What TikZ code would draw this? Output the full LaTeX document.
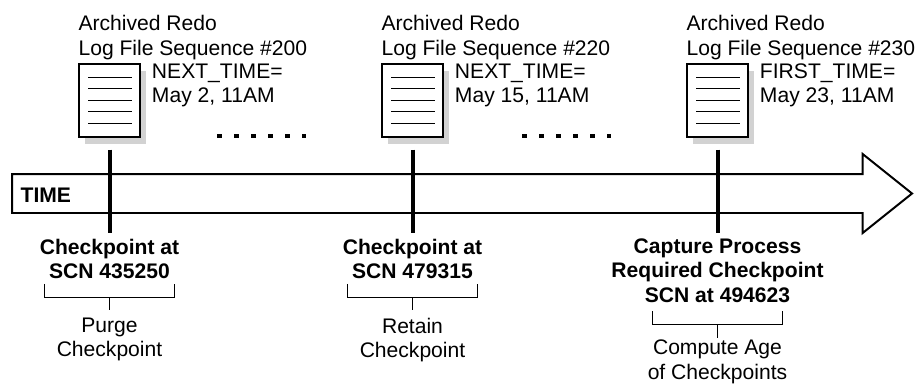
\documentclass[tikz,border=0pt]{standalone}
\usepackage{fontspec}
\setmainfont{Liberation Sans}
\usetikzlibrary{shapes.arrows, shadows, positioning}
\tikzstyle{logpage} = [rectangle, minimum width=1.525cm, minimum height=1.825cm, inner sep=0, draw=black, line width=1pt, fill=white, drop shadow={shadow xshift=0.14cm, shadow yshift=-0.18cm, fill=gray!35, opacity=1},
  path picture={
    \draw [line width=0.7pt] ([xshift=0.225cm, yshift=-0.325cm]path picture bounding box.north west) -- ++(1.1cm,0);
    \draw [line width=0.7pt] ([xshift=0.225cm, yshift=-0.6cm]path picture bounding box.north west) -- ++(1.1cm,0);
    \draw [line width=0.7pt] ([xshift=0.225cm, yshift=-0.9cm]path picture bounding box.north west) -- ++(1.1cm,0);
    \draw [line width=0.7pt] ([xshift=0.225cm, yshift=-1.175cm]path picture bounding box.north west) -- ++(1.1cm,0);
    \draw [line width=0.7pt] ([xshift=0.225cm, yshift=-1.475cm]path picture bounding box.north west) -- ++(1.1cm,0);
  }]
\tikzstyle{logtext} = [inner sep=0, align=left, font=\fontsize{15}{17.4}\selectfont]
\tikzstyle{scntext} = [inner sep=0, align=center, font=\fontsize{15}{17.4}\selectfont\bfseries]
\tikzstyle{roletext} = [inner sep=0, align=center, font=\fontsize{15}{17.4}\selectfont]
\tikzstyle{bracket} = [rectangle, minimum width=3.25cm, minimum height=0.325cm, inner sep=0]
\tikzstyle{tickline} = [line width=0.1cm, shorten <=0.3cm, shorten >=0.135cm]
\tikzstyle{thinline} = [line width=0.7pt]
\tikzstyle{dotline} = [line width=0.1cm, dash pattern=on 0.12cm off 0.305cm]

\begin{document}
\begin{tikzpicture}[node distance=2cm]
\useasboundingbox (0,0) rectangle (23,-9.575);
\node (timearrow) [single arrow, single arrow tip angle=77.3, single arrow head extend=0.5cm, shape border rotate=0, minimum height=22.5cm, text height=0.925cm, text width=0pt, inner sep=0, line width=1.4pt, draw=black, fill=white, anchor=west] at (0.275,-4.8375) {};
\node (timelabel) [scntext, anchor=west] at (0.51,-4.87) {TIME};
% log files
\node (doc1) [logpage] at (2.7375,-2.5125) {};
\node (doc2) [logpage, right of=doc1, xshift=5.575cm] {};
\node (doc3) [logpage, right of=doc2, xshift=5.625cm] {};
\node (arch1) [logtext, above=0.09cm of doc1.north west, anchor=south west] {Archived Redo\\Log File Sequence \#200};
\node (arch2) [logtext, above=0.09cm of doc2.north west, anchor=south west] {Archived Redo\\Log File Sequence \#220};
\node (arch3) [logtext, above=0.09cm of doc3.north west, anchor=south west] {Archived Redo\\Log File Sequence \#230};
\node (time1) [logtext, right=0.275cm of doc1.north east, anchor=north west] {NEXT\_TIME=\\May 2, 11AM};
\node (time2) [logtext, right=0.275cm of doc2.north east, anchor=north west] {NEXT\_TIME=\\May 15, 11AM};
\node (time3) [logtext, right=0.275cm of doc3.north east, anchor=north west] {FIRST\_TIME=\\May 23, 11AM};
% checkpoints
\node (check1) [scntext, below=3.45cm of doc1.center, anchor=north] {Checkpoint at\\SCN 435250};
\node (check2) [scntext, below=3.45cm of doc2.center, anchor=north] {Checkpoint at\\SCN 479315};
\node (check3) [scntext, below=3.45cm of doc3.center, anchor=north] {Capture Process\\Required Checkpoint\\SCN at 494623};
\node (brace1) [bracket, below=1.135cm of check1.north] {};
\node (brace2) [bracket, below=1.135cm of check2.north] {};
\node (brace3) [bracket, below=1.815cm of check3.north] {};
\node (purge) [roletext, below=0.5cm of brace1.south] {Purge\\Checkpoint};
\node (retain) [roletext, below=0.5cm of brace2.south] {Retain\\Checkpoint};
\node (age) [roletext, below=0.38cm of brace3.south] {Compute Age\\of Checkpoints};
\draw [tickline] (doc1) -- (check1);
\draw [tickline] (doc2) -- (check2);
\draw [tickline] (doc3) -- (check3);
\draw [thinline] (brace1.north west) |- (brace1.south east) -- (brace1.north east);
\draw [thinline] (brace2.north west) |- (brace2.south east) -- (brace2.north east);
\draw [thinline] (brace3.north west) |- (brace3.south east) -- (brace3.north east);
\draw [thinline, shorten >=0.175cm] (brace1.south) -- (purge);
\draw [thinline, shorten >=0.175cm] (brace2.south) -- (retain);
\draw [thinline, shorten >=0.05cm] (brace3.south) -- (age);
% dots
\coordinate (dots1a) at (5.425,-3.4);
\coordinate (dots1b) at (7.65,-3.4);
\coordinate (dots2a) at (13.05,-3.4);
\coordinate (dots2b) at (15.275,-3.4);
\draw [dotline] (dots1a) -- (dots1b);
\draw [dotline] (dots2a) -- (dots2b);
\end{tikzpicture}
\end{document}
